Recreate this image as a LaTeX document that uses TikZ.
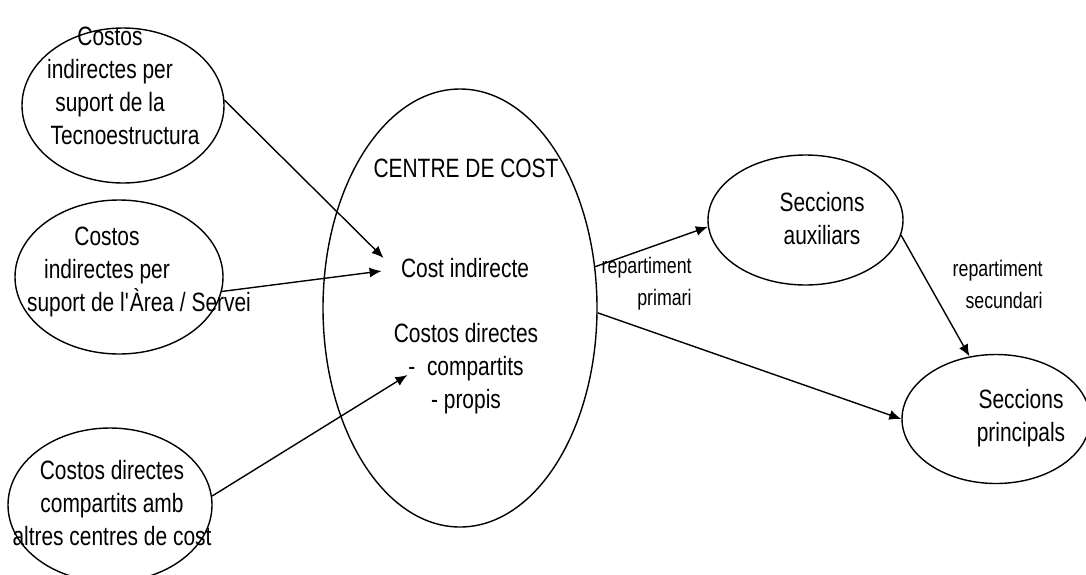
\documentclass[tikz,border=0pt]{standalone}
\usepackage{fontspec}
\setmainfont{Liberation Sans}[FakeStretch=0.79]
\usetikzlibrary{arrows.meta,shapes.geometric}

\begin{document}
\begin{tikzpicture}[x=0.5pt,y=-0.5pt,
	elli/.style={draw,ellipse,line width=0.7pt,inner sep=0pt},
	txt/.style={align=center,inner sep=0pt,font=\fontsize{13.25}{16.5}\selectfont},
	lbl/.style={align=right,anchor=east,inner sep=0pt,font=\fontsize{11.25}{16}\selectfont},
	arr/.style={->,>={Latex[length=6pt,width=5pt]},line width=0.7pt}]
\useasboundingbox (0,0) rectangle (1086,574);
\clip (0,0) rectangle (1086,574);
% ellipses
\node[elli,minimum width=101pt,minimum height=77.5pt] (tec) at (123,105.5) {};
\node[elli,minimum width=104pt,minimum height=77pt] (area) at (119,277) {};
\node[elli,minimum width=102pt,minimum height=77pt] (comp) at (110,505) {};
\node[elli,minimum width=137pt,minimum height=219pt] (centre) at (460,308) {};
\node[elli,minimum width=97.5pt,minimum height=65pt] (aux) at (805.5,220) {};
\node[elli,minimum width=94pt,minimum height=64.5pt] (princ) at (996,419) {};
% texts
\node[txt] (tectxt) at (110,86) {Costos\\indirectes per\\suport de la\\\hspace*{15pt}Tecnoestructura};
\node[txt] (areatxt) at (107,271.5) {Costos\\indirectes per\\\hspace*{32pt}suport de l\textquotesingle Àrea / Servei};
\node[txt] (comptxt) at (112,503.5) {Costos directes\\compartits amb\\altres centres de cost};
\node[txt] (centretxt) at (466,168) {CENTRE DE COST};
\node[txt] (cind) at (465,268) {Cost indirecte};
\node[txt] (cdir) at (466,368.5) {Costos directes\\-~~compartits\\- propis};
\node[txt] (auxtxt) at (822,219) {Seccions\\auxiliars};
\node[txt] (princtxt) at (1021,418.5) {Seccions\\principals};
\node[lbl] (prim) at (692,284) {repartiment\\primari};
\node[lbl] (secu) at (1043,284) {repartiment\\secundari};
% arrows
\draw [arr] (tec.3)--([shift={(-17,-10)}]cind.west);
\draw [arr] (area.-8)--([shift={(-19,3)}]cind.west);
\draw [arr] (comp.5)--([shift={(14,6.5)}]cdir.west);
\draw [arr] (centre.17)--(aux.184);
\draw [arr] (centre.-2)--(princ.west);
\draw [arr] (aux.-9)--(princ.113);
\end{tikzpicture}
\end{document}
